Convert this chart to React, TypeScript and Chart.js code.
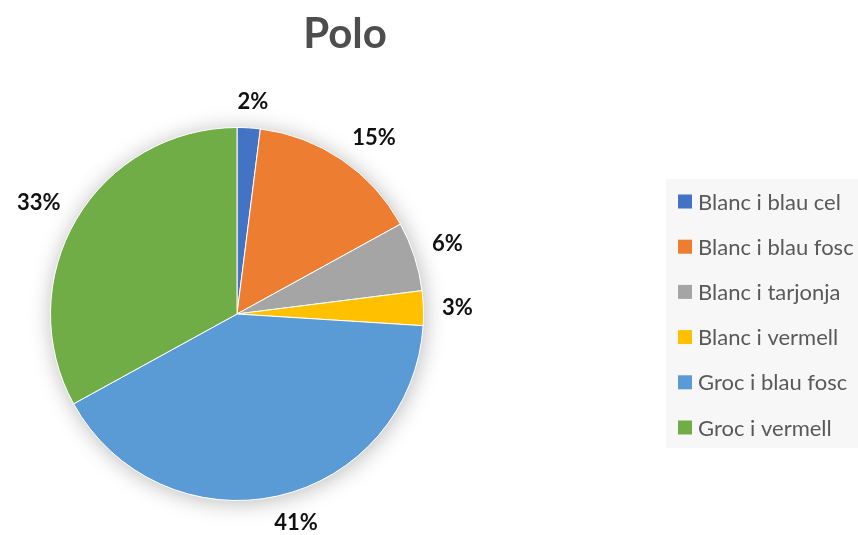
import { useEffect, useRef } from "react";
import { Chart, registerables } from "chart.js";

Chart.register(...registerables);

const TITLE = "Polo";
const categories = [
  "Blanc i blau cel",
  "Blanc i blau fosc",
  "Blanc i tarjonja",
  "Blanc i vermell",
  "Groc i blau fosc",
  "Groc i vermell",
];
const values = [2, 15, 6, 3, 41, 33];
const colors = ["#4472C4", "#ED7D31", "#A5A5A5", "#FFC000", "#5B9BD5", "#70AD47"];

const W = 858;
const H = 535;

const clamp1 = (v: number) => Math.max(-1, Math.min(1, v));

const decorPlugin = {
  id: "decor",
  beforeDatasetsDraw(chart: any) {
    const meta = chart.getDatasetMeta(0);
    const a0 = meta.data[0];
    if (!a0) return;
    const { x, y, outerRadius } = a0.getProps(["x", "y", "outerRadius"], true);
    const ctx = chart.ctx;
    ctx.save();
    ctx.shadowColor = "rgba(0,0,0,0.28)";
    ctx.shadowBlur = 22;
    ctx.shadowOffsetX = 1;
    ctx.shadowOffsetY = 2;
    ctx.fillStyle = "#ffffff";
    ctx.beginPath();
    ctx.arc(x, y, outerRadius, 0, Math.PI * 2);
    ctx.fill();
    ctx.restore();
  },
  afterDraw(chart: any) {
    const ctx = chart.ctx;
    ctx.save();
    // Title
    ctx.font = "bold 42px Lato";
    ctx.fillStyle = "#4d4d4d";
    ctx.textAlign = "center";
    ctx.textBaseline = "alphabetic";
    ctx.fillText(TITLE, 345, 48);

    // Data labels
    const meta = chart.getDatasetMeta(0);
    const total = values.reduce((s, v) => s + v, 0);
    ctx.font = "bold 22px Lato";
    ctx.fillStyle = "#111111";
    ctx.textAlign = "center";
    ctx.textBaseline = "middle";
    meta.data.forEach((arc: any, i: number) => {
      const p = arc.getProps(["x", "y", "startAngle", "endAngle", "outerRadius"], true);
      const mid = (p.startAngle + p.endAngle) / 2;
      const c = Math.cos(mid);
      const s = Math.sin(mid);
      const txt = Math.round((values[i] / total) * 100) + "%";
      const hw = ctx.measureText(txt).width / 2;
      const hh = 8;
      const d = p.outerRadius + 18.5;
      const cx = p.x + c * d + clamp1(c * 3) * hw;
      const cy = p.y + s * d + clamp1(s * 3) * hh;
      ctx.fillText(txt, cx, cy + 1);
    });

    // Legend
    const lx = 666;
    const ly = 179;
    const lw = W - lx;
    const lh = 269;
    ctx.fillStyle = "#f7f7f7";
    ctx.fillRect(lx, ly, lw, lh);
    const rowH = 45.2;
    const firstY = 201.5;
    ctx.font = "22px Lato";
    ctx.textAlign = "left";
    ctx.textBaseline = "alphabetic";
    categories.forEach((name, i) => {
      const cy = firstY + i * rowH;
      ctx.fillStyle = colors[i];
      ctx.fillRect(678, cy - 7, 14, 14);
      ctx.fillStyle = "#595959";
      ctx.fillText(name, 698, cy + 8);
    });
    ctx.restore();
  },
};

export default function App() {
  const ref = useRef<HTMLCanvasElement | null>(null);
  useEffect(() => {
    if (!ref.current) return;
    const chart = new Chart(ref.current, {
      type: "pie",
      data: {
        labels: categories,
        datasets: [
          {
            data: values,
            backgroundColor: colors,
            borderColor: "#ffffff",
            borderWidth: 1,
          },
        ],
      },
      options: {
        responsive: false,
        animation: false,
        devicePixelRatio: 1,
        layout: { padding: { left: 50, top: 127, right: 434, bottom: 34 } },
        plugins: {
          legend: { display: false },
          title: { display: false },
          tooltip: { enabled: false },
        },
      },
      plugins: [decorPlugin],
    });
    return () => chart.destroy();
  }, []);
  return (
    <div style={{ position: "absolute", left: 0, top: 0, width: W, height: H, background: "#fff" }}>
      <canvas ref={ref} width={W} height={H} style={{ width: W, height: H, display: "block" }} />
    </div>
  );
}
